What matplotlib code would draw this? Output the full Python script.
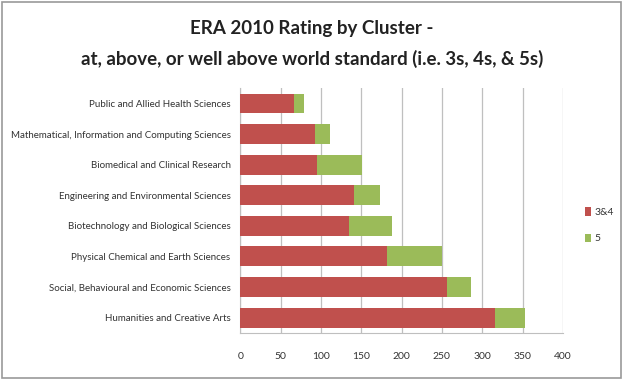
import matplotlib
matplotlib.use("Agg")
import matplotlib.pyplot as plt
from matplotlib.patches import Rectangle

plt.rcParams['font.family'] = ['Lato', 'DejaVu Sans']

clusters = ["Public and Allied Health Sciences",
            "Mathematical, Information and Computing Sciences",
            "Biomedical and Clinical Research",
            "Engineering and Environmental Sciences",
            "Biotechnology and Biological Sciences",
            "Physical Chemical and Earth Sciences",
            "Social, Behavioural and Economic Sciences",
            "Humanities and Creative Arts"]
rating_34 = [67, 93, 95, 141, 135, 182, 256, 316]
rating_5 = [12, 18, 56, 32, 53, 68, 30, 37]
xticks = [0, 50, 100, 150, 200, 250, 300, 350, 400]

red = '#C0504D'
green = '#9BBB59'

fig = plt.figure(figsize=(6.24, 3.8), dpi=100)
ax = fig.add_axes([0.385, 0.124, 0.517, 0.644])

ypos = list(range(len(clusters)))
ax.barh(ypos, rating_34, height=0.65, color=red, label='3&4', zorder=3)
ax.barh(ypos, rating_5, left=rating_34, height=0.65, color=green, label='5', zorder=3)

ax.set_xlim(0, 400)
ax.set_ylim(len(clusters) - 0.5, -0.5)
ax.set_xticks(xticks)
ax.set_yticks(ypos)
ax.set_yticklabels(clusters, fontsize=7.0, color='#333333')
ax.tick_params(axis='x', labelsize=7.5, colors='#333333', length=0, pad=14)
ax.tick_params(axis='y', length=0, pad=7)
ax.grid(axis='x', color='#BFBFBF', linewidth=0.9, zorder=0)
for s in ['top', 'right']:
    ax.spines[s].set_visible(False)
for s in ['left', 'bottom']:
    ax.spines[s].set_color('#BFBFBF')

ax.legend(loc='center left', bbox_to_anchor=(1.04, 0.44), frameon=False,
          fontsize=7.5, handlelength=0.6, handleheight=0.9, handletextpad=0.3,
          labelspacing=1.6, labelcolor='#333333')

fig.text(0.5, 0.925, "ERA 2010 Rating by Cluster -", ha='center', va='center',
         fontsize=13.5, fontweight='bold', color='#222222')
fig.text(0.5, 0.845, "at, above, or well above world standard (i.e. 3s, 4s, & 5s)",
         ha='center', va='center', fontsize=13.5, fontweight='bold', color='#222222')

fig.patches.append(Rectangle((0.003, 0.006), 0.992, 0.988, transform=fig.transFigure,
                             fill=False, edgecolor='#999999', linewidth=1.2))

fig.savefig("out.png", dpi=100)
